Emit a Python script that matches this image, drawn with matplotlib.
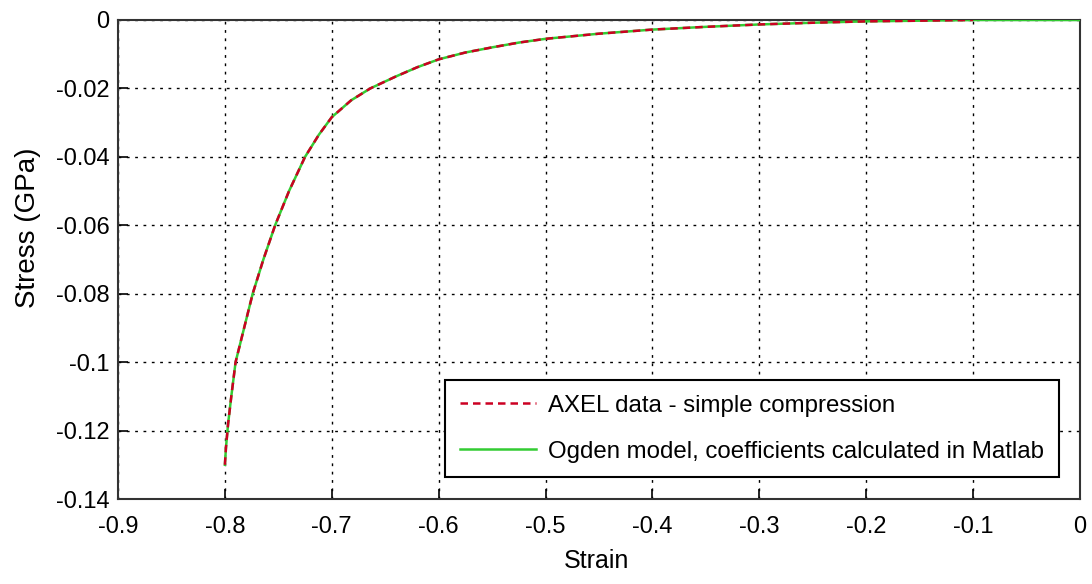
import matplotlib
matplotlib.use("Agg")
import matplotlib.pyplot as plt

# Data
data_strain = [-0.800, -0.799, -0.797, -0.794, -0.790, -0.782, -0.774, -0.764, -0.753,
               -0.740, -0.725, -0.712, -0.700, -0.682, -0.664, -0.640, -0.620, -0.600,
               -0.575, -0.550, -0.525, -0.500, -0.450, -0.400, -0.350, -0.300,
               -0.250, -0.200, -0.150, -0.100]
data_stress = [-0.130, -0.125, -0.118, -0.110, -0.100, -0.090, -0.080, -0.070, -0.060,
               -0.050, -0.040, -0.0335, -0.0284, -0.0235, -0.0200, -0.0165, -0.0138, -0.0115,
               -0.0095, -0.0080, -0.0066, -0.0055, -0.0040, -0.0028, -0.0020, -0.0013,
               -0.0008, -0.0004, -0.0002, 0.0]
model_strain = data_strain + [-0.050, 0.000]
model_stress = data_stress + [0.0, 0.0]

xticks = [-0.9, -0.8, -0.7, -0.6, -0.5, -0.4, -0.3, -0.2, -0.1, 0]
xticklabels = ["-0.9", "-0.8", "-0.7", "-0.6", "-0.5", "-0.4", "-0.3", "-0.2", "-0.1", "0"]
yticks = [-0.14, -0.12, -0.1, -0.08, -0.06, -0.04, -0.02, 0]
yticklabels = ["-0.14", "-0.12", "-0.1", "-0.08", "-0.06", "-0.04", "-0.02", "0"]

plt.rcParams["font.family"] = ["Liberation Sans", "DejaVu Sans"]

fig = plt.figure(figsize=(10.92, 5.84), dpi=100)
ax = fig.add_axes([118 / 1092, 1 - 499 / 584, 962 / 1092, 479 / 584])

ax.plot(model_strain, model_stress, color="#33cc33", lw=1.8,
        label="Ogden model, coefficients calculated in Matlab", zorder=3)
ax.plot(data_strain, data_stress, color="#cc0022", lw=1.8, ls=(0, (3, 2)),
        label="AXEL data - simple compression", zorder=4)

ax.set_xlim(-0.9, 0)
ax.set_ylim(-0.14, 0)
ax.set_xticks(xticks)
ax.set_xticklabels(xticklabels)
ax.set_yticks(yticks)
ax.set_yticklabels(yticklabels)
ax.tick_params(direction="in", length=7, width=1.2, labelsize=17)
ax.tick_params(axis="x", pad=12)
ax.tick_params(axis="y", pad=6)
ax.grid(True, color="black", ls=(0, (2, 4)), lw=1)
for s in ax.spines.values():
    s.set_linewidth(1.5)
    s.set_color("#333333")

ax.set_xlabel("Strain", fontsize=18)
ax.xaxis.set_label_coords(0.497, -0.104)
ax.set_ylabel("Stress (GPa)", fontsize=20)
ax.yaxis.set_label_coords(-0.080, 0.566)

handles, labels = ax.get_legend_handles_labels()
leg = ax.legend(handles[::-1], labels[::-1], loc="lower right",
                bbox_to_anchor=(0.978, 0.046), borderaxespad=0, fontsize=17.3,
                frameon=True, fancybox=False, edgecolor="black", framealpha=1,
                handlelength=3.2, handletextpad=0.5, borderpad=0.6,
                labelspacing=1.0)
leg.get_frame().set_linewidth(1.5)

fig.savefig("out.png", dpi=100)
